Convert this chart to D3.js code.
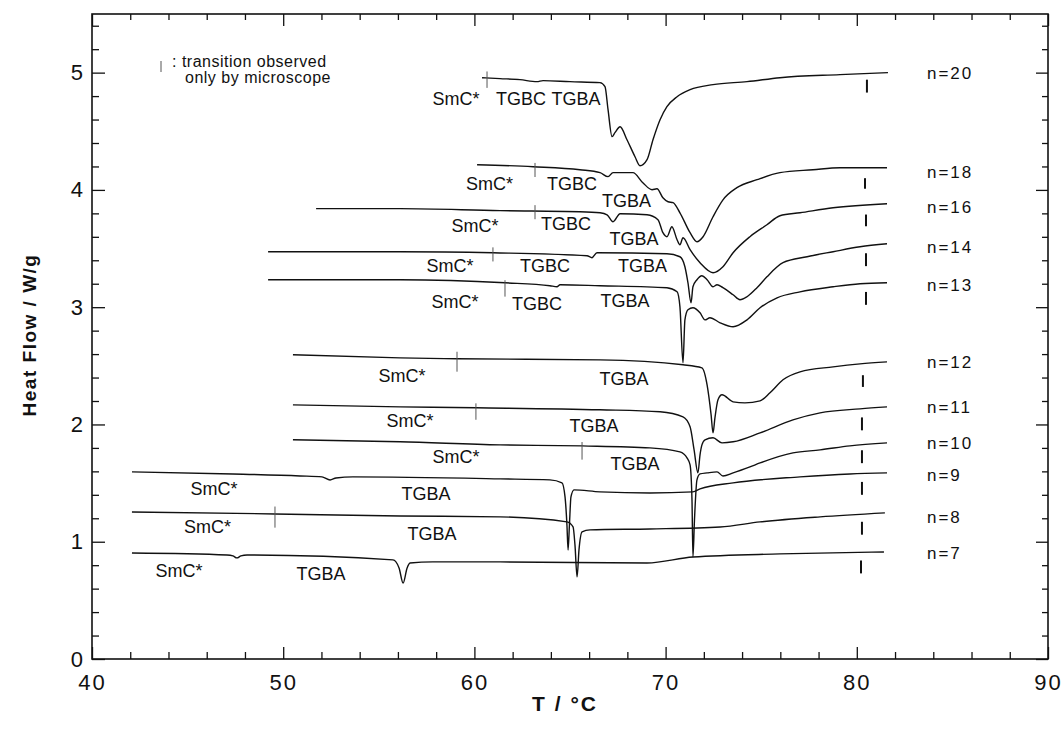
<html>
<head>
<meta charset="utf-8">
<script src="https://d3js.org/d3.v7.min.js"></script>
<style>
  body { margin: 0; background: #fff; }
  text { font-family: "Liberation Sans", Arial, Helvetica, sans-serif; fill: #111; }
</style>
</head>
<body>
<svg id="chart" width="1063" height="729"></svg>
<script>
// ---- DSC curves, [T (°C), heat flow (W/g)] ----
const n20 = [[60.40,4.957],[61.34,4.949],[62.38,4.940],[63.27,4.923],[63.59,4.932],[65.00,4.923],[66.57,4.915],
  [66.83,4.881],[66.99,4.684],[67.20,4.454],[67.35,4.488],[67.62,4.539],[67.98,4.428],[68.40,4.283],[68.66,4.206],
  [69.03,4.258],[69.34,4.428],[69.71,4.599],[70.07,4.710],[70.60,4.795],[71.28,4.855],[72.48,4.898],[74.26,4.923],
  [75.98,4.957],[79.12,4.983],[81.63,5.000]];
const n18 = [[60.14,4.215],[63.07,4.198],[65.52,4.172],[66.57,4.147],[66.99,4.113],[67.25,4.147],[68.29,4.147],
  [68.81,4.061],[69.29,4.002],[69.55,4.010],[69.86,3.933],[70.13,3.899],[70.39,3.891],[70.75,3.805],[71.28,3.635],
  [71.64,3.558],[71.96,3.601],[72.48,3.771],[73.00,3.915],[73.73,4.019],[74.78,4.087],[75.98,4.147],[77.71,4.172],
  [79.12,4.189],[81.58,4.189]];
const n16 = [[51.72,3.840],[56.11,3.840],[61.34,3.823],[65.52,3.814],[66.57,3.805],[66.94,3.788],[67.25,3.729],
  [67.62,3.797],[69.03,3.788],[69.60,3.746],[69.86,3.635],[70.07,3.601],[70.33,3.686],[70.60,3.575],[70.75,3.532],
  [70.91,3.592],[71.28,3.490],[71.80,3.379],[72.48,3.294],[73.00,3.345],[73.53,3.464],[74.41,3.601],[75.30,3.703],
  [75.98,3.780],[77.03,3.805],[78.76,3.848],[81.58,3.882]];
const n14 = [[49.21,3.473],[56.11,3.473],[60.97,3.464],[65.89,3.439],[66.15,3.422],[66.41,3.464],[70.07,3.456],
  [70.75,3.430],[71.01,3.345],[71.17,3.208],[71.33,3.038],[71.43,3.174],[71.64,3.234],[71.90,3.268],[72.17,3.234],
  [72.48,3.174],[72.69,3.191],[73.00,3.166],[73.53,3.106],[73.89,3.063],[74.26,3.089],[74.78,3.166],[75.30,3.259],
  [76.14,3.379],[77.40,3.430],[78.76,3.473],[80.17,3.515],[81.58,3.541]];
const n13 = [[49.21,3.234],[56.11,3.234],[61.60,3.208],[63.95,3.183],[64.32,3.174],[64.48,3.191],[66.57,3.183],
  [70.07,3.166],[70.60,3.131],[70.75,3.003],[70.91,2.526],[71.01,2.892],[71.17,2.978],[71.43,2.995],[71.80,2.952],
  [72.06,2.892],[72.32,2.910],[72.85,2.867],[73.53,2.833],[74.26,2.892],[74.94,2.995],[75.83,3.080],[77.03,3.131],
  [78.76,3.174],[80.17,3.200],[81.58,3.208]];
const n12 = [[50.51,2.594],[56.11,2.568],[59.09,2.560],[66.57,2.551],[70.91,2.509],[71.90,2.483],[72.17,2.338],
  [72.38,2.082],[72.48,1.928],[72.58,2.056],[72.74,2.210],[72.95,2.253],[73.53,2.193],[74.15,2.184],[74.94,2.201],
  [75.46,2.270],[76.14,2.381],[77.03,2.449],[78.76,2.491],[80.17,2.517],[81.58,2.534]];
const n11 = [[50.51,2.167],[56.11,2.150],[60.08,2.142],[66.57,2.125],[69.71,2.108],[70.91,2.065],[71.28,1.980],
  [71.49,1.783],[71.69,1.587],[71.80,1.741],[71.90,1.826],[72.06,1.869],[72.48,1.886],[72.95,1.843],[73.53,1.852],
  [74.94,1.928],[76.66,2.039],[78.08,2.099],[80.17,2.133],[81.58,2.150]];
const n10 = [[50.51,1.869],[56.11,1.852],[61.34,1.826],[65.63,1.817],[69.18,1.800],[70.75,1.766],[71.12,1.715],
  [71.28,1.655],[71.38,1.357],[71.43,0.870],[71.51,1.186],[71.64,1.527],[71.80,1.578],[72.17,1.587],[72.69,1.596],
  [73.00,1.561],[73.53,1.587],[74.41,1.638],[74.94,1.672],[76.66,1.758],[78.08,1.783],[79.64,1.817],[81.58,1.843]];
const n9 = [[42.09,1.596],[47.37,1.578],[50.88,1.561],[52.03,1.553],[52.45,1.527],[52.76,1.544],[53.65,1.553],
  [61.34,1.536],[63.95,1.527],[64.58,1.502],[64.74,1.382],[64.84,1.143],[64.90,0.930],[64.97,1.143],[65.05,1.382],
  [65.21,1.442],[66.57,1.425],[69.18,1.416],[71.43,1.425],[71.80,1.450],[73.53,1.502],[77.03,1.553],[79.64,1.578],
  [81.58,1.587]];
const n8 = [[42.09,1.254],[49.57,1.237],[56.11,1.220],[61.34,1.212],[64.84,1.169],[65.16,1.126],[65.26,0.973],
  [65.37,0.700],[65.47,0.930],[65.63,1.084],[66.05,1.101],[69.18,1.109],[72.85,1.126],[74.94,1.169],[78.08,1.212],
  [81.47,1.246]];
const n7 = [[42.09,0.904],[47.06,0.887],[47.37,0.879],[47.58,0.862],[47.79,0.879],[48.11,0.887],[55.74,0.845],
  [56.06,0.776],[56.27,0.648],[56.48,0.776],[56.63,0.819],[57.83,0.828],[61.34,0.828],[69.03,0.819],[71.43,0.870],
  [75.98,0.896],[81.42,0.913]];

const seriesNames = ["n=20","n=18","n=16","n=14","n=13","n=12","n=11","n=10","n=9","n=8","n=7"];
const seriesData = [n20, n18, n16, n14, n13, n12, n11, n10, n9, n8, n7];
const nameLevel = [5.0, 4.15, 3.85, 3.51, 3.19, 2.53, 2.15, 1.84, 1.57, 1.21, 0.90];

// phase labels: [T, W/g, text]
const phaseLabels = [
  [59.04,4.727,"SmC*"],[62.44,4.727,"TGBC"],[65.31,4.727,"TGBA"],
  [60.79,4.002,"SmC*"],[65.10,4.002,"TGBC"],[67.95,3.857,"TGBA"],
  [60.03,3.643,"SmC*"],[64.79,3.660,"TGBC"],[68.35,3.532,"TGBA"],
  [58.72,3.302,"SmC*"],[63.69,3.302,"TGBC"],[68.79,3.302,"TGBA"],
  [58.99,2.995,"SmC*"],[63.27,2.978,"TGBC"],[67.88,3.003,"TGBA"],
  [56.21,2.363,"SmC*"],[67.82,2.338,"TGBA"],
  [56.63,1.980,"SmC*"],[66.26,1.937,"TGBA"],
  [59.04,1.672,"SmC*"],[68.40,1.613,"TGBA"],
  [46.38,1.399,"SmC*"],[57.47,1.357,"TGBA"],
  [46.04,1.075,"SmC*"],[57.78,1.015,"TGBA"],
  [44.55,0.700,"SmC*"],[51.98,0.674,"TGBA"]
];

// transitions seen only by microscope: [T, W/g low, W/g high]
const microLeft = [[60.66,4.87,5.01],[63.17,4.11,4.23],[63.17,3.75,3.87],[60.97,3.39,3.51],[61.60,3.09,3.23],
  [59.09,2.45,2.62],[60.08,2.04,2.18],[65.63,1.70,1.85],[49.57,1.12,1.30]];
const microRight = [[80.53,4.83,4.94],[80.43,4.01,4.10],[80.48,3.69,3.79],[80.48,3.35,3.46],[80.48,3.02,3.13],
  [80.32,2.32,2.42],[80.27,1.95,2.06],[80.27,1.67,1.78],[80.27,1.40,1.51],[80.27,1.06,1.17],[80.22,0.73,0.84]];

const xMajor = [40,50,60,70,80,90];
const yMajor = [0,1,2,3,4,5];

// ---- layout ----
const svg = d3.select("#chart");
const mLeft = 92, mRight = 1048, mTop = 14, mBottom = 659;

const x = d3.scaleLinear().domain([40, 90]).range([mLeft, mRight]);
const y = d3.scaleLinear().domain([0, 5.5]).range([mBottom, mTop]);

const xMinor = d3.range(40, 90.1, 2).filter(d => d % 10 !== 0);
const yMinor = d3.range(0, 5.51, 0.2).filter(d => Math.abs(d - Math.round(d)) > 0.01);

function ticks(axis, vals, size, label) {
  return axis.tickValues(vals).tickSize(-size).tickSizeOuter(0)
    .tickFormat(label ? d3.format("d") : "");
}

// bottom
const gB = svg.append("g").attr("transform", `translate(0,${mBottom})`);
gB.call(ticks(d3.axisBottom(x), xMajor, 12, true).tickPadding(15));
gB.append("g").call(ticks(d3.axisBottom(x), xMinor, 7, false));
// top
const gT = svg.append("g").attr("transform", `translate(0,${mTop})`);
gT.call(ticks(d3.axisTop(x), xMajor, 12, false));
gT.append("g").call(ticks(d3.axisTop(x), xMinor, 6, false));
// left
const gL = svg.append("g").attr("transform", `translate(${mLeft},0)`);
gL.call(ticks(d3.axisLeft(y), yMajor, 13, true).tickPadding(7));
gL.append("g").call(ticks(d3.axisLeft(y), yMinor, 7, false));
// right
const gR = svg.append("g").attr("transform", `translate(${mRight},0)`);
gR.call(ticks(d3.axisRight(y), yMajor, 12, false));
gR.append("g").call(ticks(d3.axisRight(y), yMinor, 6, false));

svg.selectAll(".domain").remove();
svg.selectAll(".tick line").attr("stroke", "#111").attr("stroke-width", 1.3);
svg.selectAll(".tick text")
  .style("font-size", "22px").style("letter-spacing", "2px").attr("fill", "#111");

svg.append("rect")
  .attr("x", mLeft).attr("y", mTop)
  .attr("width", mRight - mLeft).attr("height", mBottom - mTop)
  .attr("fill", "none").attr("stroke", "#111").attr("stroke-width", 1.6);

// axis titles
svg.append("text")
  .attr("x", 565).attr("y", 711)
  .attr("text-anchor", "middle")
  .style("font-size", "21px").style("font-weight", "bold").style("letter-spacing", "2px")
  .text("T / °C");
svg.append("text")
  .attr("transform", "translate(36,335) rotate(-90)")
  .attr("text-anchor", "middle")
  .style("font-size", "19px").style("font-weight", "bold").style("letter-spacing", "1.5px")
  .text("Heat  Flow / W/g");

// ---- curves ----
const line = d3.line()
  .x(d => x(d[0]))
  .y(d => y(d[1]))
  .curve(d3.curveMonotoneX);

svg.append("g").selectAll("path")
  .data(seriesData)
  .enter().append("path")
  .attr("d", line)
  .attr("fill", "none")
  .attr("stroke", "#111")
  .attr("stroke-width", 1.4);

// series names
svg.append("g").selectAll("text")
  .data(seriesNames)
  .enter().append("text")
  .attr("x", x(83.67))
  .attr("y", (d, i) => y(nameLevel[i]))
  .attr("dy", "0.35em")
  .style("font-size", "17px").style("letter-spacing", "2px")
  .text(d => d);

// phase labels
svg.append("g").selectAll("text")
  .data(phaseLabels)
  .enter().append("text")
  .attr("x", d => x(d[0]))
  .attr("y", d => y(d[1]))
  .attr("text-anchor", "middle")
  .style("font-size", "18px")
  .text(d => d[2]);

// microscope marks
svg.append("g").selectAll("line")
  .data(microLeft)
  .enter().append("line")
  .attr("x1", d => x(d[0])).attr("x2", d => x(d[0]))
  .attr("y1", d => y(d[1])).attr("y2", d => y(d[2]))
  .attr("stroke", "#555").attr("stroke-width", 1);
svg.append("g").selectAll("line")
  .data(microRight)
  .enter().append("line")
  .attr("x1", d => x(d[0])).attr("x2", d => x(d[0]))
  .attr("y1", d => y(d[1])).attr("y2", d => y(d[2]))
  .attr("stroke", "#111").attr("stroke-width", 2);

// legend
const lg = svg.append("g");
lg.append("line")
  .attr("x1", 161).attr("x2", 161).attr("y1", 61).attr("y2", 72)
  .attr("stroke", "#555").attr("stroke-width", 1);
lg.append("text").attr("x", 172).attr("y", 67)
  .style("font-size", "16px").style("letter-spacing", "0.5px")
  .text(": transition observed");
lg.append("text").attr("x", 185).attr("y", 83)
  .style("font-size", "16px").style("letter-spacing", "0.5px")
  .text("only by microscope");
</script>
</body>
</html>
